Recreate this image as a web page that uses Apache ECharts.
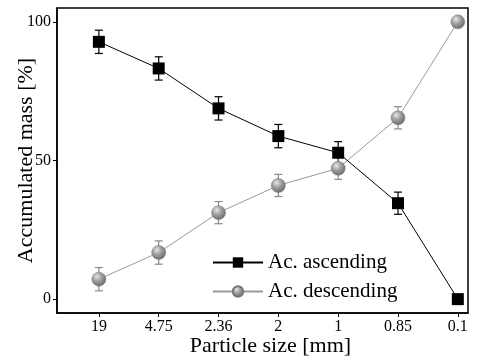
<!DOCTYPE html>
<html>
<head>
<meta charset="utf-8">
<script src="https://cdn.jsdelivr.net/npm/echarts@6/dist/echarts.min.js"></script>
<style>
  html, body { margin: 0; padding: 0; background: #fff; }
  #chart { width: 477px; height: 361px; }
</style>
</head>
<body>
<div id="chart"></div>
<script>
// particle sizes (mm), plotted left to right
var sizes = ['19', '4.75', '2.36', '2', '1', '0.85', '0.1']
// accumulated mass [%]
var ascending = [92.8, 83.2, 68.8, 58.8, 52.8, 34.6, 0]
var descending = [7.2, 16.8, 31.2, 41.0, 47.2, 65.4, 100]
// error bar half-lengths
var ascErr = [4.2, 4.2, 4.2, 4.2, 4.0, 4.0, 0]
var descErr = [4.2, 4.2, 4.0, 4.0, 4.0, 4.0, 0]
var yTicks = [0, 50, 100]

var FONT = '"Liberation Serif", "DejaVu Serif", serif'
var idx = sizes.map(function(s, i) { return i })

function pairs(vals) {
  return vals.map(function(v, i) { return [i, v] })
}
function errData(vals, errs) {
  return vals.map(function(v, i) { return [i, v - errs[i], v + errs[i]] })
}
function errSeries(vals, errs, color) {
  return {
    type: 'custom',
    silent: true,
    z: 1,
    data: errData(vals, errs),
    renderItem: function(params, api) {
      var lo = api.coord([api.value(0), api.value(1)])
      var hi = api.coord([api.value(0), api.value(2)])
      if (Math.abs(hi[1] - lo[1]) < 1) return null
      var w = 4
      var st = { stroke: color, lineWidth: 1.2 }
      return {
        type: 'group',
        children: [
          { type: 'line', shape: { x1: lo[0], y1: lo[1], x2: hi[0], y2: hi[1] }, style: st },
          { type: 'line', shape: { x1: lo[0] - w, y1: lo[1], x2: lo[0] + w, y2: lo[1] }, style: st },
          { type: 'line', shape: { x1: hi[0] - w, y1: hi[1], x2: hi[0] + w, y2: hi[1] }, style: st }
        ]
      }
    }
  }
}

var sphere = new echarts.graphic.RadialGradient(0.38, 0.32, 0.7, [
  { offset: 0, color: '#e6e6e6' },
  { offset: 0.45, color: '#a0a0a0' },
  { offset: 1, color: '#6a6a6a' }
])

var chart = echarts.init(document.getElementById('chart'))
chart.setOption({
  backgroundColor: '#fff',
  animation: false,
  grid: {
    left: 57, right: 9, top: 8, bottom: 48,
    outerBoundsMode: 'none',
    containLabel: false,
    show: true, borderColor: '#000', borderWidth: 1.5, backgroundColor: '#fff'
  },
  legend: {
    orient: 'vertical',
    left: 207,
    top: 247,
    itemWidth: 50,
    itemHeight: 13,
    itemGap: 8,
    data: ['Ac. ascending', 'Ac. descending'],
    textStyle: { fontFamily: FONT, fontSize: 21, color: '#000' }
  },
  xAxis: {
    type: 'value',
    min: -0.7,
    max: 6.17,
    name: 'Particle size [mm]',
    nameLocation: 'middle',
    nameGap: 22,
    nameMoveOverlap: false,
    nameTextStyle: { fontFamily: FONT, fontSize: 22, color: '#000', padding: [0, 0, 0, 16] },
    axisLine: { show: true, onZero: false, lineStyle: { color: '#000', width: 1.5 } },
    axisTick: { show: true, customValues: idx, length: 4, lineStyle: { color: '#000' } },
    axisLabel: {
      customValues: idx,
      fontFamily: FONT, fontSize: 16, color: '#000', margin: 6,
      formatter: function(v) { return sizes[Math.round(v)] }
    },
    splitLine: { show: false }
  },
  yAxis: {
    type: 'value',
    min: -5,
    max: 105,
    name: 'Accumulated mass [%]',
    nameLocation: 'middle',
    nameGap: 20,
    nameMoveOverlap: false,
    nameTextStyle: { fontFamily: FONT, fontSize: 22, color: '#000' },
    axisLine: { show: true, onZero: false, lineStyle: { color: '#000', width: 1.5 } },
    axisTick: { show: true, customValues: yTicks, length: 4, lineStyle: { color: '#000' } },
    axisLabel: { customValues: yTicks, fontFamily: FONT, fontSize: 16, color: '#000', margin: 6 },
    splitLine: { show: false }
  },
  series: [
    errSeries(ascending, ascErr, '#000'),
    errSeries(descending, descErr, '#8a8a8a'),
    {
      name: 'Ac. descending',
      type: 'line',
      z: 3,
      data: pairs(descending),
      symbol: 'circle',
      symbolSize: 14,
      lineStyle: { color: '#9a9a9a', width: 1 },
      itemStyle: { color: sphere, borderColor: '#777', borderWidth: 0.5 }
    },
    {
      name: 'Ac. ascending',
      type: 'line',
      z: 4,
      data: pairs(ascending),
      symbol: 'rect',
      symbolSize: 12,
      lineStyle: { color: '#000', width: 1 },
      itemStyle: { color: '#000' }
    }
  ]
})
</script>
</body>
</html>
